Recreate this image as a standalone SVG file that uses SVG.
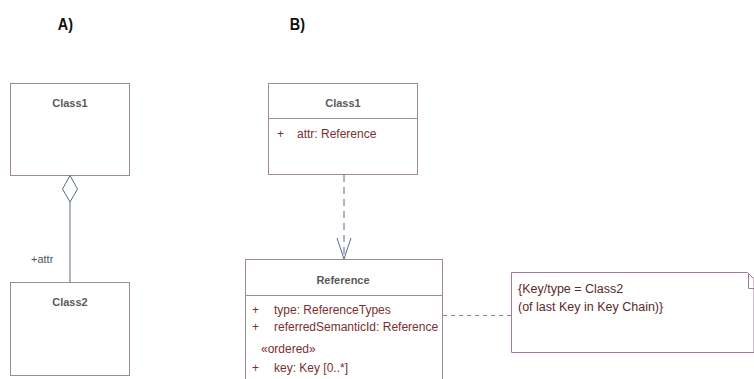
<svg xmlns="http://www.w3.org/2000/svg" width="754" height="379" viewBox="0 0 754 379">
<style>
.lbl{font-family:"Liberation Sans",Arial,sans-serif;font-size:17px;font-weight:bold;fill:#111}
.box{fill:#fff;stroke:#a08c8c;stroke-width:1}
.title{font-family:"Liberation Sans",Arial,sans-serif;font-size:11px;font-weight:bold;fill:#5a5a5a;text-anchor:middle}
.attr{font-family:"Liberation Sans",Arial,sans-serif;font-size:12px;fill:#7a3030}
.role{font-family:"Liberation Sans",Arial,sans-serif;font-size:11px;fill:#555}
.note{fill:#fff;stroke:#a07ca0;stroke-width:1}
.ntext{font-family:"Liberation Sans",Arial,sans-serif;font-size:12.5px;fill:#5a2a2a}
.conn{fill:none;stroke:#5c6a8a;stroke-width:1}
</style>
<rect width="754" height="379" fill="#fff"/>
<text class="lbl" x="68" y="30" transform="scale(0.85,1)">A)</text>
<text class="lbl" x="341" y="30" transform="scale(0.85,1)">B)</text>
<g id="a-class1">
<rect class="box" x="10.5" y="83.5" width="119" height="92"/>
<text class="title" x="70" y="107">Class1</text>
</g>
<g id="a-class2">
<rect class="box" x="10.5" y="282.5" width="119" height="93"/>
<text class="title" x="70" y="306">Class2</text>
</g>
<g id="b-class1">
<rect class="box" x="268.5" y="83.5" width="149" height="91"/>
<line class="box" x1="268.5" y1="118.5" x2="417.5" y2="118.5"/>
<text class="title" x="343" y="107">Class1</text>
<text class="attr" x="277" y="138">+</text>
<text class="attr" x="297" y="138">attr: Reference</text>
</g>
<g id="b-reference">
<rect class="box" x="245.5" y="259.5" width="197" height="130"/>
<line class="box" x1="245.5" y1="295.5" x2="442.5" y2="295.5"/>
<text class="title" x="343" y="284">Reference</text>
<text class="attr" x="252" y="314">+</text>
<text class="attr" x="274" y="314">type: ReferenceTypes</text>
<text class="attr" x="252" y="331">+</text>
<text class="attr" x="274" y="331">referredSemanticId: Reference</text>
<text class="attr" x="261" y="353">«ordered»</text>
<text class="attr" x="252" y="372">+</text>
<text class="attr" x="274" y="372">key: Key [0..*]</text>
</g>
<g id="b-note">
<path class="note" d="M511.5 272.5 H747.5 L754 279 V352.5 H511.5 Z"/>
<path class="note" d="M748.5 273.5 V288.5 H754"/>
<text class="ntext" x="518" y="293">{Key/type = Class2</text>
<text class="ntext" x="518" y="311">(of last Key in Key Chain)}</text>
</g>
<g id="connectors">
<line class="conn" x1="70" y1="202" x2="70" y2="282"/>
<path class="conn" d="M70 175.5 L77.5 189 L70 202 L62.5 189 Z" fill="#fff"/>
<text class="role" x="31" y="263">+attr</text>
<line class="conn" x1="344" y1="175" x2="344" y2="258" stroke-dasharray="7,5"/>
<path class="conn" d="M337 238 L344 259 L351 238"/>
<line x1="443" y1="315.5" x2="511" y2="315.5" stroke="#a07ca0" stroke-width="1" stroke-dasharray="4,4"/>
</g>
</svg>
